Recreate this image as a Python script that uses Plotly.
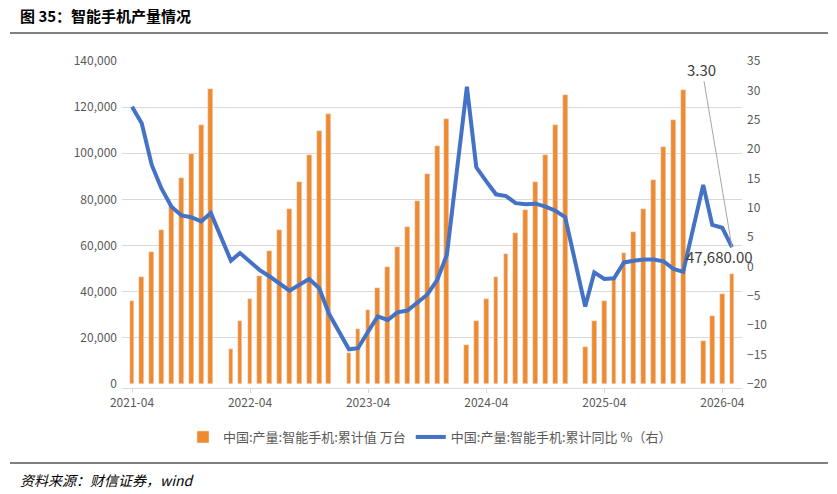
import plotly.graph_objects as go

years_months = []
for y in range(2021, 2027):
    months = range(4, 13) if y == 2021 else (range(2, 6) if y == 2026 else range(2, 13))
    for m in months:
        years_months.append(f"{y}-{m:02d}-01")
dates = years_months

production = [36.1, 46.3, 57.3, 66.9, 77.0, 89.3, 99.7, 112.4, 127.7,
              15.2, 27.2, 37.0, 46.9, 57.8, 66.8, 75.9, 87.7, 99.3, 109.7, 117.2,
              13.3, 23.8, 32.2, 41.5, 50.9, 59.4, 67.9, 79.3, 90.9, 103.2, 114.9,
              17.0, 27.4, 36.7, 46.2, 56.4, 65.5, 75.3, 87.6, 99.4, 112.1, 125.4,
              16.0, 27.2, 36.1, 45.8, 56.7, 65.9, 76.0, 88.4, 102.7, 114.6, 127.4,
              18.5, 29.5, 38.9, 47.68]
production = [v * 1000 for v in production]

yoy = [27.2, 24.4, 17.3, 13.3, 10.2, 8.7, 8.4, 7.7, 9.1,
       1.0, 2.3, 0.8, -0.6, -1.7, -2.8, -4.1, -3.1, -2.1, -3.7, -8.0,
       -14.1, -13.9, -11.1, -8.5, -9.1, -7.8, -7.5, -6.1, -4.8, -2.3, 2.0,
       30.6, 16.9, 14.5, 12.3, 12.0, 10.8, 10.6, 10.7, 10.2, 9.5, 8.4,
       -6.8, -1.0, -2.1, -2.0, 0.7, 1.0, 1.2, 1.2, 0.9, -0.4, -0.9,
       13.9, 7.1, 6.6, 3.3]

font = "Noto Sans CJK SC"
OFF = 8  # page body margin
L, T, R, B = 122 - OFF, 61 - OFF, 837 - 742 + OFF, 494 - 384 + OFF
pw = 837 - L - R
ph = 494 - T - B

def px(xpix):
    return (xpix - OFF - L) / pw

def py(ypix):
    return (384 - ypix) / ph

fig = go.Figure()
fig.add_trace(go.Bar(x=dates, y=production, name="中国:产量:智能手机:累计值 万台",
                     marker_color="#F08A2E", width=15 * 86400000))
fig.add_trace(go.Scatter(x=dates, y=yoy, name="中国:产量:智能手机:累计同比 %（右）", yaxis="y2",
                         mode="lines", line=dict(color="#4472C4", width=4)))

fig.update_layout(
    width=837, height=494, plot_bgcolor="white", paper_bgcolor="white",
    margin=dict(l=L, r=R, t=T, b=B, pad=4),
    font=dict(family=font, color="#595959", size=12),
    xaxis=dict(type="date", range=["2021-03-01", "2026-06-01"], tick0="2021-04-01", dtick="M12",
               tickformat="%Y-%m", showgrid=False, showline=True, linecolor="#D9D9D9",
               ticks="outside", tickcolor="#D9D9D9", ticklen=4, tickfont=dict(size=12)),
    yaxis=dict(range=[0, 140000], dtick=20000, tickformat=",", gridcolor="#D9D9D9", zeroline=False),
    yaxis2=dict(range=[-20, 35], dtick=5, overlaying="y", side="right", showgrid=False, zeroline=False),
    legend=dict(orientation="h", x=px(430), xanchor="center", y=py(437), yanchor="middle",
                font=dict(size=13), bgcolor="rgba(0,0,0,0)"),
    bargap=0,
    annotations=[
        dict(x="2026-05-01", y=3.3, xref="x", yref="y2", text="3.30", showarrow=True,
             arrowhead=0, arrowcolor="#A6A6A6", arrowwidth=1, ax=-30, ay=-178,
             font=dict(size=15, color="#404040")),
        dict(x="2026-05-01", y=47680, xref="x", yref="y", text="47,680.00", showarrow=False,
             xshift=-12, yshift=18, font=dict(size=15, color="#404040")),
        dict(x=px(18), y=py(16), xref="paper", yref="paper", xanchor="left", yanchor="middle",
             text="<b>图 35：智能手机产量情况</b>", showarrow=False,
             font=dict(size=15, color="black")),
        dict(x=px(18), y=py(480), xref="paper", yref="paper", xanchor="left", yanchor="middle",
             text="<i>资料来源：财信证券，wind</i>", showarrow=False,
             font=dict(size=14, color="black")),
    ],
    shapes=[
        dict(type="line", xref="paper", yref="paper", x0=px(10), x1=px(828), y0=py(33), y1=py(33),
             line=dict(color="black", width=1)),
        dict(type="line", xref="paper", yref="paper", x0=px(10), x1=px(828), y0=py(463), y1=py(463),
             line=dict(color="black", width=1)),
    ],
)
fig.write_html("out.html")
